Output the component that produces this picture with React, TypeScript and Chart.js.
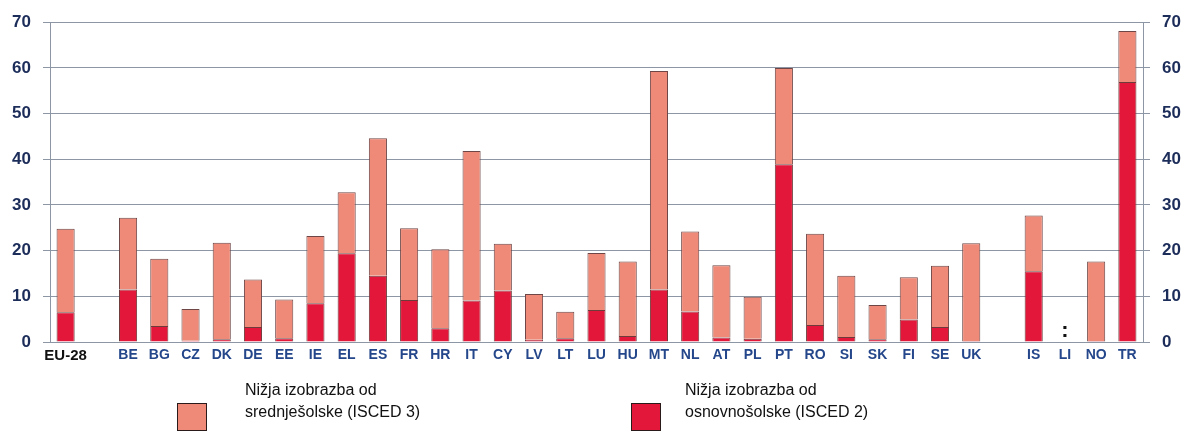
import React, { useEffect, useRef } from "react";
import { Chart, registerables } from "chart.js";

Chart.register(...registerables);

const categories = ["EU-28", "", "BE", "BG", "CZ", "DK", "DE", "EE", "IE", "EL", "ES", "FR", "HR", "IT", "CY", "LV", "LT", "LU", "HU", "MT", "NL", "AT", "PL", "PT", "RO", "SI", "SK", "FI", "SE", "UK", "", "IS", "LI", "NO", "TR"];

// ISCED 2 (lower segment)
const isced2 = [6.5, null, 11.5, 3.5, 0.3, 0.6, 3.3, 0.8, 8.5, 19.4, 14.5, 9.2, 3.0, 9.1, 11.3, 0.5, 0.8, 7.0, 1.3, 11.5, 6.7, 1.0, 0.7, 38.9, 3.7, 1.1, 0.6, 4.9, 3.3, 0.2, null, 15.5, null, 0.2, 56.9];

// ISCED 3 (upper segment)
const isced3 = [18.3, null, 15.7, 14.7, 6.9, 21.1, 10.4, 8.5, 14.7, 13.4, 30.1, 15.7, 17.3, 32.7, 10.2, 10.0, 5.8, 12.5, 16.3, 47.8, 17.5, 15.8, 9.2, 21.1, 20.0, 13.4, 7.5, 9.3, 13.4, 21.4, null, 12.2, null, 17.4, 11.2];

// Categories with unavailable data and their marker
const missingCategories = ["LI"];
const missingMarker = ":";

const yTicks = [0, 10, 20, 30, 40, 50, 60, 70];

const legendLabels = [
  ["Nižja izobrazba od", "srednješolske (ISCED 3)"],
  ["Nižja izobrazba od", "osnovnošolske (ISCED 2)"],
];

const PINK = "#f08a78";
const RED = "#e3173a";
const TICK_COLOR = "#1c2d5a";
const XLABEL_COLOR = "#24468a";
const GRID = "#8d96a4";
const FONT = "'Liberation Sans', Arial, sans-serif";

const missingPlugin = {
  id: "missingMarker",
  afterDatasetsDraw(chart: any) {
    const { ctx, scales } = chart;
    const x = scales.x;
    const y = scales.y;
    ctx.save();
    ctx.fillStyle = "#111";
    ctx.font = "bold 22px " + FONT;
    ctx.textAlign = "center";
    ctx.textBaseline = "middle";
    missingCategories.forEach((c) => {
      const idx = categories.indexOf(c);
      if (idx >= 0) {
        ctx.fillText(missingMarker, x.getPixelForValue(idx), y.getPixelForValue(2) - 2);
      }
    });
    ctx.restore();
  },
};

export default function App() {
  const ref = useRef<HTMLCanvasElement>(null);

  useEffect(() => {
    if (!ref.current) return;
    const chart = new Chart(ref.current, {
      type: "bar",
      data: {
        labels: categories,
        datasets: [
          {
            label: "ISCED 2",
            data: isced2 as any,
            backgroundColor: RED,
            borderColor: "#6e3a3a",
            borderWidth: 1,
            barPercentage: 0.58,
            categoryPercentage: 1,
            yAxisID: "y",
          },
          {
            label: "ISCED 3",
            data: isced3 as any,
            backgroundColor: PINK,
            borderColor: "#6e4646",
            borderWidth: 1,
            barPercentage: 0.58,
            categoryPercentage: 1,
            yAxisID: "y",
          },
        ],
      },
      options: {
        animation: false,
        responsive: false,
        maintainAspectRatio: false,
        layout: { padding: { top: 20, bottom: 74, left: 0, right: 0 } },
        plugins: {
          legend: { display: false },
          tooltip: { enabled: false },
        },
        scales: {
          x: {
            stacked: true,
            grid: { display: false, drawTicks: false },
            border: { display: true, color: GRID, width: 1 },
            ticks: {
              autoSkip: false,
              maxRotation: 0,
              padding: 5,
              font: (ctx: any) => ({ family: FONT, size: ctx.index === 0 ? 15 : 14, weight: "bold" }),
              color: (ctx: any) => (ctx.index === 0 ? "#111111" : XLABEL_COLOR),
            },
            afterFit: (s: any) => {
              s.height = 25;
            },
          },
          y: {
            stacked: true,
            position: "left",
            min: 0,
            max: 70,
            afterBuildTicks: (s: any) => {
              s.ticks = yTicks.map((v) => ({ value: v }));
            },
            grid: { color: GRID, lineWidth: 1, tickLength: 7, drawTicks: true },
            border: { display: true, color: GRID, width: 1 },
            ticks: {
              padding: 12,
              color: TICK_COLOR,
              font: { family: FONT, size: 17, weight: "bold" },
            },
            afterFit: (s: any) => {
              s.width = 50;
            },
          },
          y2: {
            position: "right",
            min: 0,
            max: 70,
            afterBuildTicks: (s: any) => {
              s.ticks = yTicks.map((v) => ({ value: v }));
            },
            grid: { drawOnChartArea: false, color: GRID, tickLength: 7 },
            border: { display: true, color: GRID, width: 1 },
            ticks: {
              padding: 12,
              color: TICK_COLOR,
              font: { family: FONT, size: 17, weight: "bold" },
            },
            afterFit: (s: any) => {
              s.width = 41;
            },
          },
        },
      } as any,
      plugins: [missingPlugin],
    });
    return () => chart.destroy();
  }, []);

  const legendColors = [PINK, RED];
  const legendPos = [
    { box: 177, text: 245 },
    { box: 631, text: 685 },
  ];

  return (
    <div style={{ position: "absolute", left: 0, top: 0, width: 1184, height: 441, background: "#fff" }}>
      <canvas ref={ref} width={1184} height={441} style={{ display: "block", width: 1184, height: 441 }} />
      {legendLabels.map((lines, i) => (
        <React.Fragment key={i}>
          <div
            style={{
              position: "absolute",
              left: legendPos[i].box,
              top: 403,
              width: 28,
              height: 26,
              background: legendColors[i],
              border: "1.5px solid #2a1a1a",
            }}
          />
          <div
            style={{
              position: "absolute",
              left: legendPos[i].text,
              top: 379,
              fontFamily: FONT,
              fontSize: 16,
              lineHeight: "22px",
              color: "#111",
            }}
          >
            {lines.map((l, j) => (
              <div key={j}>{l}</div>
            ))}
          </div>
        </React.Fragment>
      ))}
    </div>
  );
}
